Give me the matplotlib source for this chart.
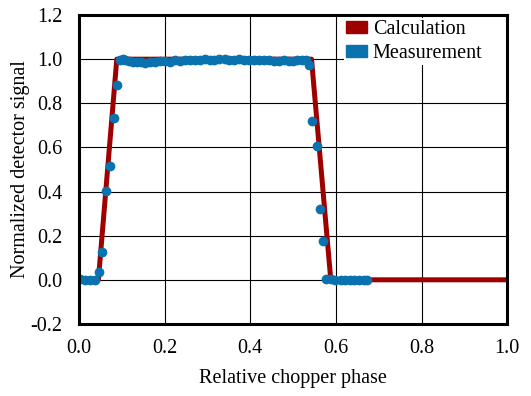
import numpy as np
import matplotlib.pyplot as plt
from matplotlib.patches import Patch

# Curva calculada (puntos de quiebre)
fase_calc = [0.0, 0.045, 0.088, 0.543, 0.588, 1.0]
senal_calc = [0.0, 0.0, 1.0, 1.0, 0.0, 0.0]

# Puntos medidos
fase_med = [0.002, 0.014, 0.026, 0.038, 0.047, 0.054, 0.063, 0.072, 0.081, 0.088,
            0.096, 0.102, 0.108, 0.116, 0.126, 0.136, 0.145, 0.155, 0.166, 0.178,
            0.189, 0.200, 0.212, 0.224, 0.235, 0.247, 0.258, 0.270, 0.282, 0.293,
            0.305, 0.316, 0.328, 0.340, 0.351, 0.363, 0.374, 0.386, 0.398, 0.409,
            0.421, 0.432, 0.444, 0.456, 0.467, 0.479, 0.490, 0.500, 0.510, 0.520,
            0.530, 0.537, 0.545, 0.555, 0.562, 0.571, 0.578, 0.588, 0.599, 0.611,
            0.622, 0.632, 0.642, 0.653, 0.665, 0.672]
senal_med = [0.002, -0.002, 0.000, -0.003, 0.036, 0.128, 0.403, 0.517, 0.733, 0.884,
             0.998, 1.000, 0.997, 0.990, 0.985, 0.986, 0.988, 0.984, 0.987, 0.986,
             0.990, 0.992, 0.989, 0.994, 0.993, 0.996, 0.994, 0.997, 0.996, 0.999,
             0.998, 0.997, 0.999, 1.000, 0.998, 0.997, 0.999, 0.996, 0.998, 0.995,
             0.996, 0.994, 0.995, 0.993, 0.991, 0.994, 0.990, 0.992, 0.994, 0.996,
             0.998, 0.975, 0.721, 0.608, 0.321, 0.178, 0.005, 0.002, 0.000, -0.002,
             0.001, -0.003, -0.001, -0.002, -0.003, -0.002]

ticks_x = [0.0, 0.2, 0.4, 0.6, 0.8, 1.0]
ticks_y = [-0.2, 0.0, 0.2, 0.4, 0.6, 0.8, 1.0, 1.2]

rojo = '#9E0000'
azul = '#0A72AE'

plt.rcParams['font.family'] = ['Liberation Serif', 'DejaVu Serif']

fig, ax = plt.subplots(figsize=(5.31, 3.96), dpi=100)
fig.subplots_adjust(left=0.149, right=0.955, top=0.962, bottom=0.182)

ax.plot(fase_calc, senal_calc, color=rojo, lw=3.6, zorder=3)
ax.plot(fase_med, senal_med, 'o', color=azul, ms=6, zorder=4)

ax.set_xlim(0, 1.0)
ax.set_ylim(-0.2, 1.2)
ax.set_xticks(ticks_x)
ax.set_yticks(ticks_y)
ax.set_xticklabels(['%.1f' % v for v in ticks_x])
ax.set_yticklabels(['%.1f' % v for v in ticks_y])
ax.tick_params(length=0, labelsize=14.5)
ax.tick_params(axis='x', pad=11)
ax.tick_params(axis='y', pad=12)
ax.grid(True, color='black', lw=0.8)
ax.set_axisbelow(True)
for s in ax.spines.values():
    s.set_linewidth(2.2)
    s.set_zorder(6)

ax.set_xlabel('Relative chopper phase', fontsize=14.5, labelpad=8)
ax.set_ylabel('Normalized detector signal', fontsize=14.5, labelpad=0)

handles = [Patch(color=rojo, label='Calculation'), Patch(color=azul, label='Measurement')]
leg = ax.legend(handles=handles, loc='upper left', bbox_to_anchor=(0.618, 0.85, 0.382, 0.14),
                mode='expand', fontsize=14.5, frameon=True, fancybox=False,
                edgecolor='none', framealpha=1, borderpad=0.1, labelspacing=0.25,
                handlelength=1.05, handleheight=0.5, handletextpad=0.3, borderaxespad=0)
leg.set_zorder(5)

fig.savefig('out.png', dpi=100)
